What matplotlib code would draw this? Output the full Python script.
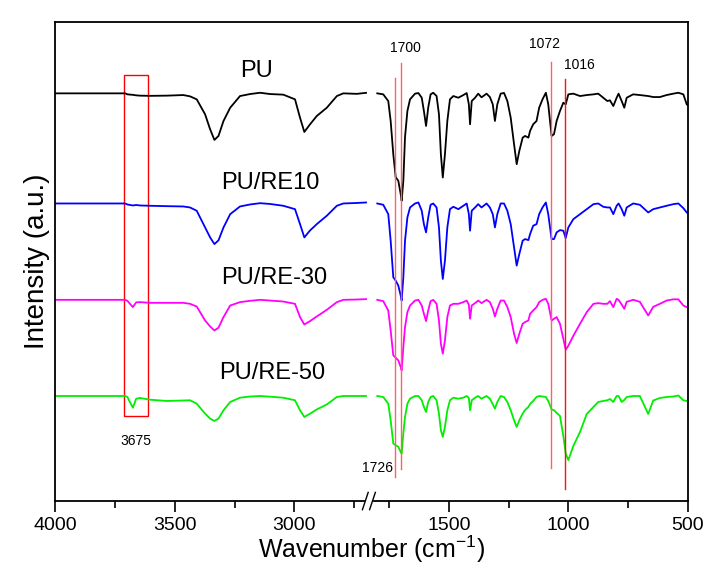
import numpy as np
import matplotlib
matplotlib.use('Agg')
import matplotlib.pyplot as plt
from matplotlib.patches import Rectangle

plt.rcParams['font.family'] = ['Liberation Sans', 'DejaVu Sans']
plt.rcParams['mathtext.default'] = 'regular'

# FTIR spectra, values relative to each curve's baseline (a.u.)
# high-wavenumber part (4000-2700)
wn_hi = [4000, 3707, 3698, 3675, 3661, 3645, 3603, 3533, 3464, 3436, 3408, 3373,
         3352, 3334, 3317, 3296, 3268, 3227, 3185, 3143, 3101, 3046, 2997, 2976,
         2958, 2934, 2906, 2864, 2822, 2795, 2739, 2700]
pu_hi = [0, 0, -1.0, -1.5, -2.0, -2.3, -2.5, -2.3, -1.7, -3.0, -6.0, -21.0,
         -36.0, -46.7, -42.7, -27.7, -14.4, -2.7, -0.7, 0.6, -0.7, -1.3, -6.0, -24.4,
         -38.7, -31.0, -22.7, -14.4, -2.7, 0, -0.5, 0.5]
re10_hi = [0, 0, -1.0, -2.0, -1.5, -2.0, -2.3, -2.7, -3.0, -4.0, -7.3, -24.0,
           -34.0, -40.7, -37.0, -24.0, -10.7, -3.0, -1.0, 0.3, -0.5, -2.3, -5.7, -20.7,
           -34.0, -27.0, -20.7, -12.3, -2.3, 0, 0.5, 1.0]
re30_hi = [0, 0, -1.0, -7.3, -2.5, -2.3, -3.0, -3.0, -3.0, -4.0, -6.7, -20.7,
           -26.7, -30.7, -28.0, -17.3, -5.7, -2.3, -1.0, 0, -0.7, -1.7, -4.0, -17.3,
           -24.7, -21.3, -16.7, -10.0, -2.3, 0, 0.3, 0.7]
re50_hi = [0, 0, -1.0, -11.7, -2.7, -2.0, -3.7, -5.0, -4.5, -4.3, -7.7, -17.7,
           -22.7, -25.0, -22.7, -14.3, -6.0, -1.7, -0.5, 0, -0.7, -1.7, -4.3, -14.3,
           -21.0, -17.7, -13.5, -8.5, -1.0, 0, 0, 0]

# low-wavenumber part (1800-500)
wn_lo = [1799, 1774, 1753, 1743, 1732, 1722, 1711, 1701, 1697, 1690, 1683, 1673,
         1662, 1641, 1627, 1613, 1604, 1595, 1586, 1576, 1565, 1551, 1541, 1533,
         1525, 1516, 1506, 1495, 1481, 1460, 1439, 1425, 1416, 1411, 1404, 1390,
         1377, 1363, 1342, 1328, 1316, 1307, 1297, 1283, 1269, 1255, 1241, 1227,
         1216, 1205, 1191, 1181, 1167, 1160, 1147, 1133, 1122, 1108, 1094, 1084,
         1070, 1060, 1049, 1035, 1021, 1011, 1000, 979, 951, 923, 895, 875,
         854, 837, 826, 812, 798, 790, 777, 766, 756, 729, 701, 666,
         645, 617, 589, 561, 540, 519, 505, 500]
pu_lo = [0, -1.0, -7.7, -27.7, -61.0, -84.0, -87.7, -101.0, -107.7, -87.7, -44.0, -17.7,
         -6.0, -0.3, 0.3, -4.4, -17.7, -32.7, -14.4, -1.0, 0.6, -2.7, -21.0, -61.0,
         -84.4, -61.0, -27.7, -6.0, -2.7, -4.4, -1.7, 0.3, -11.0, -31.0, -7.7, -4.4,
         -0.3, -4.0, -0.3, -3.7, -11.0, -27.7, -11.0, -0.3, 0.4, -7.7, -24.4, -51.0,
         -71.0, -57.7, -44.4, -42.7, -44.4, -37.7, -31.0, -27.7, -14.4, -6.0, 0.6, -11.0,
         -42.7, -41.0, -27.7, -17.7, -9.4, -11.0, -1.0, -0.3, -2.7, -1.7, -1.0, -0.3,
         -4.4, -7.7, -7.0, -12.7, -4.4, -0.3, -7.7, -14.4, -4.4, -1.0, -1.7, -2.7,
         -3.7, -3.7, -1.7, -0.3, 0.6, -1.0, -11.0, -12.0]
re10_lo = [0, -1.3, -10.7, -37.3, -74.0, -77.3, -82.3, -92.3, -97.3, -74.0, -37.3, -14.0,
           -4.0, 0, 1.0, -7.3, -20.7, -29.0, -14.0, -1.3, 0, -4.0, -24.0, -57.3,
           -75.7, -57.3, -24.0, -5.7, -3.3, -5.7, -2.3, 0, -10.7, -27.3, -7.3, -4.0,
           -0.7, -4.0, 0, -4.0, -10.7, -24.0, -10.7, 0, 0, -7.3, -20.7, -44.0,
           -62.3, -50.7, -37.3, -35.7, -36.7, -30.7, -22.3, -20.7, -10.7, -4.0, 1.0, -10.7,
           -35.7, -35.7, -29.0, -26.7, -27.3, -34.7, -24.0, -15.7, -10.7, -5.7, -0.7, 0,
           -3.3, -4.0, -4.0, -10.7, -2.3, 0, -5.7, -12.3, -4.0, 0, -1.3, -9.0,
           -5.7, -4.0, -2.3, -0.7, 0, -4.7, -9.0, -10.0]
re30_lo = [0, -1.3, -10.7, -30.7, -55.7, -58.0, -60.7, -67.3, -70.7, -47.3, -27.3, -12.3,
           -5.7, -0.7, 0, -5.7, -14.0, -21.3, -10.7, -1.3, 0, -4.0, -20.7, -44.0,
           -54.0, -40.7, -17.3, -5.7, -4.0, -4.0, -2.3, -0.7, -5.0, -19.0, -5.7, -3.3,
           -0.7, -3.3, 0, -2.3, -9.0, -16.7, -9.0, -0.7, -0.7, -7.3, -17.3, -34.0,
           -43.3, -34.0, -24.0, -22.3, -20.7, -14.0, -10.7, -7.3, -2.3, 0, 1.0, -4.0,
           -20.7, -19.0, -17.3, -24.0, -39.0, -50.0, -46.0, -36.0, -24.0, -12.3, -4.0, -3.3,
           -4.0, -4.0, -1.3, -7.3, 1.0, 0, -4.7, -9.0, -2.0, 0, -2.0, -15.7,
           -7.0, -4.0, -0.7, 0.5, 0.5, -5.7, -7.3, -7.5]
re50_lo = [0, -1.0, -7.7, -24.3, -47.7, -49.3, -51.0, -56.0, -57.7, -37.7, -21.0, -7.7,
           -2.7, 0, 0, -4.3, -11.0, -16.0, -6.0, -1.0, 0, -4.3, -17.7, -34.3,
           -41.0, -31.0, -14.3, -4.3, -1.7, -2.7, -1.7, 0, -2.0, -14.3, -4.3, -1.7,
           0, -2.7, 0, -2.7, -8.3, -12.7, -6.0, 0, -1.0, -6.0, -14.3, -24.3,
           -31.0, -24.3, -17.7, -14.0, -11.0, -8.0, -5.0, -1.0, 0, -0.5, -1.0, -5.0,
           -13.5, -14.3, -17.0, -20.0, -40.0, -57.7, -64.3, -50.0, -36.0, -18.0, -11.0, -6.0,
           -5.0, -4.3, -3.0, -6.0, 0, 0, -6.0, -4.0, -1.0, 0, 0, -18.0,
           -4.5, -2.0, -1.0, -0.5, 0.5, -4.3, -5.0, -5.0]

names = ['PU', 'PU/RE10', 'PU/RE-30', 'PU/RE-50']
colors = ['black', '#0000ff', '#ff00ff', '#00ee00']
offsets = [408.7, 298.3, 201.7, 105.3]

GAP = 46  # width of the axis break


def to_u(wn):
    wn = np.asarray(wn, dtype=float)
    return np.where(wn >= 2700, 4000 - wn, 1300 + GAP + 1800 - wn)


fig = plt.figure(figsize=(7.07, 5.70), dpi=100)
ax = fig.add_axes([0.078, 0.121, 0.895, 0.84])

hi = [pu_hi, re10_hi, re30_hi, re50_hi]
lo = [pu_lo, re10_lo, re30_lo, re50_lo]
for yh, yl, off, c in zip(hi, lo, offsets, colors):
    ax.plot(to_u(wn_hi), np.array(yh) + off, color=c, lw=1.3)
    ax.plot(to_u(wn_lo), np.array(yl) + off, color=c, lw=1.3)

# reference lines
ax.plot([to_u(1726)] * 2, [24, 424], color='#ff6060', lw=1)
ax.plot([to_u(1700)] * 2, [32, 439], color='#ff6060', lw=1)
ax.plot([to_u(1072)] * 2, [33, 440], color='#ff6060', lw=1)
ax.plot([to_u(1016)] * 2, [12, 423], color='#ff1010', lw=1)
ax.add_patch(Rectangle((to_u(3712), 85), to_u(3611) - to_u(3712), 342,
                       fill=False, edgecolor='red', lw=1))

ax.text(to_u(1680), 454, '1700', ha='center', va='center', fontsize=10)
ax.text(to_u(1099), 458, '1072', ha='center', va='center', fontsize=10)
ax.text(to_u(955), 437, '1016', ha='center', va='center', fontsize=10)
ax.text(to_u(1734), 33, '1726', ha='right', va='center', fontsize=10)
ax.text(to_u(3661), 60, '3675', ha='center', va='center', fontsize=10)

label_x = [3160, 3101, 3085, 3093]
label_y = [431, 319, 224, 128]
for name, lx, ly in zip(names, label_x, label_y):
    ax.text(to_u(lx), ly, name, ha='center', va='center', fontsize=17)

ax.set_xlim(0, 2646)
ax.set_ylim(0, 480)

major_wn = [4000, 3500, 3000, 1500, 1000, 500]
minor_wn = [3750, 3250, 2750, 1750, 1250, 750]
ax.set_xticks(to_u(major_wn))
ax.set_xticklabels([str(w) for w in major_wn], fontsize=14)
ax.set_xticks(to_u(minor_wn), minor=True)
ax.tick_params(axis='x', which='major', length=8, width=1.2, direction='out')
ax.tick_params(axis='x', which='minor', length=5, width=1.2, direction='out')
ax.set_yticks([])
for s in ax.spines.values():
    s.set_linewidth(1.3)

# axis break marks
xb = 1312
trans = ax.get_xaxis_transform()
ax.plot([xb - 8, xb + 8], [0, 0], color='white', lw=3, transform=trans,
        clip_on=False, zorder=5)
for dx in (-15, 15):
    ax.plot([xb + dx - 12, xb + dx + 12], [-0.018, 0.018], color='black', lw=1,
            transform=trans, clip_on=False, zorder=6)

ax.set_xlabel('Wavenumber (cm$^{-1}$)', fontsize=18, labelpad=0)
ax.set_ylabel('Intensity (a.u.)', fontsize=20, labelpad=4)

fig.savefig('out.png', dpi=100)
